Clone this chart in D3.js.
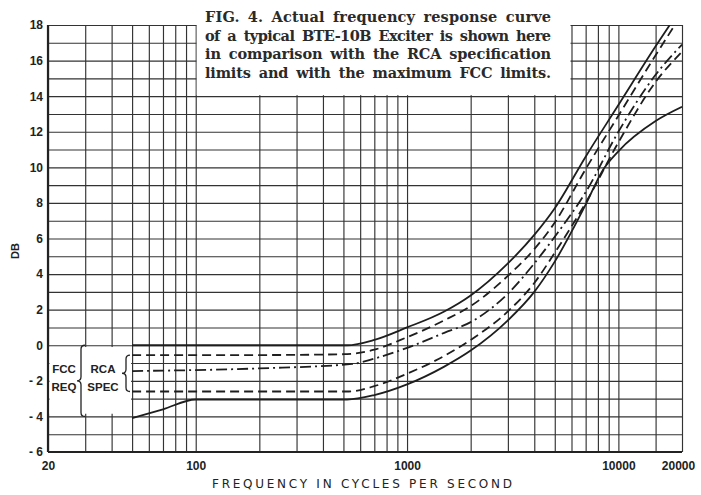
<!DOCTYPE html>
<html>
<head>
<meta charset="utf-8">
<script src="https://cdn.jsdelivr.net/npm/d3@7"></script>
<style>
body { margin: 0; background: #fff; }
svg { display: block; font-family: "Liberation Sans", Arial, sans-serif; }
.grid line { stroke: #333; stroke-width: 1.15; }
.grid .domain { display: none; }
.lbl .domain { display: none; }
.lbl text { font-size: 12px; font-weight: bold; fill: #222; }
.curve { fill: none; stroke: #1e1e1e; stroke-width: 1.8; }
</style>
</head>
<body>
<div id="chart"></div>
<script>
// grid and tick values
var gridFreqs = [20, 30, 40, 50, 60, 70, 80, 90, 100, 200, 300, 400, 500, 600, 700, 800, 900,
                 1000, 2000, 3000, 4000, 5000, 6000, 7000, 8000, 9000, 10000, 15000, 20000];
var freqLabels = [20, 100, 1000, 10000, 20000];
var dbLabels = [-6, -4, -2, 0, 2, 4, 6, 8, 10, 12, 14, 16, 18];

// curves (frequency in Hz, level in dB)
var fccUpperF  = [50, 200, 520, 700, 1000, 1500, 2000, 3000, 4000, 5000, 7000, 10000, 15000, 17500];
var fccUpperDb = [0, 0, 0, 0.3, 1.0, 1.9, 2.8, 4.6, 6.2, 7.7, 10.6, 13.5, 16.8, 18];

var rcaUpperF  = [50, 200, 520, 700, 1000, 1500, 2000, 3000, 4000, 5000, 7000, 10000, 15000, 18500];
var rcaUpperDb = [-0.55, -0.55, -0.5, -0.25, 0.45, 1.4, 2.2, 3.9, 5.4, 6.9, 9.9, 12.9, 16.3, 18];

var actualF  = [50, 200, 550, 700, 1000, 1500, 2000, 3000, 4000, 5000, 7000, 10000, 15000, 20000];
var actualDb = [-1.45, -1.3, -1.05, -0.75, -0.15, 0.7, 1.3, 2.9, 4.6, 6.1, 8.6, 12.0, 15.2, 16.9];

var rcaLowerF  = [50, 200, 530, 700, 1000, 1500, 2000, 3000, 4000, 5000, 7000, 10000, 15000, 20000];
var rcaLowerDb = [-2.6, -2.6, -2.6, -2.3, -1.6, -0.6, 0.3, 1.9, 3.5, 5.2, 8.0, 11.4, 14.8, 16.5];

var fccLowerF  = [50, 70, 100, 520, 700, 1000, 1500, 2000, 3000, 4000, 5000, 7000, 8400, 10000, 15000, 20000];
var fccLowerDb = [-4.1, -3.6, -3.05, -3.05, -2.8, -2.2, -1.2, -0.3, 1.4, 3.0, 4.7, 7.9, 9.8, 10.9, 12.6, 13.4];

var caption = [
  "FIG. 4.  Actual frequency response curve",
  "of a typical BTE-10B Exciter is shown here",
  "in comparison with the RCA specification",
  "limits and with the maximum FCC limits."
];

var width = 701, height = 495;
var plot = {left: 48, right: 682, top: 25, bottom: 452};

var x = d3.scaleLog().domain([20, 20000]).range([plot.left, plot.right]);
var y = d3.scaleLinear().domain([-6, 18]).range([plot.bottom, plot.top]);

var svg = d3.select("#chart").append("svg")
    .attr("width", width)
    .attr("height", height);

// grid lines
svg.append("g")
    .attr("class", "grid")
    .attr("transform", "translate(0," + plot.bottom + ")")
    .call(d3.axisBottom(x).tickValues(gridFreqs).tickSize(-(plot.bottom - plot.top)).tickFormat(""));

svg.append("g")
    .attr("class", "grid")
    .attr("transform", "translate(" + plot.left + ",0)")
    .call(d3.axisLeft(y).tickValues(d3.range(-6, 19)).tickSize(-(plot.right - plot.left)).tickFormat(""));

// heavier frame on left and bottom
svg.append("line").attr("x1", plot.left).attr("x2", plot.left)
    .attr("y1", plot.top).attr("y2", plot.bottom)
    .attr("stroke", "#222").attr("stroke-width", 2.2);
svg.append("line").attr("x1", plot.left).attr("x2", plot.right)
    .attr("y1", plot.bottom).attr("y2", plot.bottom)
    .attr("stroke", "#222").attr("stroke-width", 2.2);

// white patch behind the caption
svg.append("rect")
    .attr("x", x(100) + 1)
    .attr("y", 0)
    .attr("width", x(6000) - x(100) - 2)
    .attr("height", y(14) - 1)
    .attr("fill", "#fff");

// white patch behind the FCC / RCA notes
svg.append("rect")
    .attr("x", x(20) + 1.5)
    .attr("y", y(-0.1))
    .attr("width", x(50) - x(20) - 2.5)
    .attr("height", y(-3.85) - y(-0.1))
    .attr("fill", "#fff");

// curves
svg.append("clipPath").attr("id", "clip")
  .append("rect")
    .attr("x", plot.left).attr("y", plot.top)
    .attr("width", plot.right - plot.left).attr("height", plot.bottom - plot.top);

var line = d3.line()
    .curve(d3.curveMonotoneX)
    .x(function(d){ return x(d[0]); })
    .y(function(d){ return y(d[1]); });

var series = [
  {f: fccUpperF, db: fccUpperDb, dash: null},
  {f: rcaUpperF, db: rcaUpperDb, dash: "9,5"},
  {f: actualF,   db: actualDb,   dash: "11,4,2,4"},
  {f: rcaLowerF, db: rcaLowerDb, dash: "9,5"},
  {f: fccLowerF, db: fccLowerDb, dash: null}
];

svg.append("g").attr("clip-path", "url(#clip)")
  .selectAll("path")
  .data(series)
  .enter().append("path")
    .attr("class", "curve")
    .attr("stroke-dasharray", function(s){ return s.dash; })
    .attr("d", function(s){ return line(d3.zip(s.f, s.db)); });

// y labels
svg.append("g")
    .attr("class", "lbl")
    .attr("transform", "translate(" + (plot.left - 4) + ",0)")
    .call(d3.axisLeft(y).tickValues(dbLabels).tickSize(0).tickPadding(1)
        .tickFormat(function(d){ return d < 0 ? "- " + (-d) : d; }));

svg.append("text")
    .text("DB")
    .attr("transform", "translate(19," + y(5.3) + ") rotate(-90)")
    .attr("text-anchor", "middle")
    .style("font-size", "11px")
    .style("font-weight", "bold")
    .style("fill", "#222");

// x labels
var xLab = svg.append("g")
    .attr("class", "lbl")
    .attr("transform", "translate(0," + plot.bottom + ")")
    .call(d3.axisBottom(x).tickValues(freqLabels).tickSize(0).tickPadding(9.5)
        .tickFormat(function(d){ return d; }));
xLab.selectAll("text").filter(function(d){ return d === 20000; }).attr("dx", -4);

svg.append("text")
    .text("FREQUENCY IN CYCLES PER SECOND")
    .attr("x", 212)
    .attr("y", 488)
    .attr("textLength", 300)
    .attr("lengthAdjust", "spacing")
    .style("font-family", "'DejaVu Sans', sans-serif")
    .style("font-size", "12px")
    .style("fill", "#222");

// caption
svg.append("g").selectAll("text")
  .data(caption)
  .enter().append("text")
    .text(function(d){ return d; })
    .attr("x", 205)
    .attr("y", function(d, i){ return 22 + i * 18.6; })
    .attr("textLength", 346)
    .attr("lengthAdjust", "spacing")
    .style("font-family", "'DejaVu Serif', serif")
    .style("font-weight", "bold")
    .style("font-size", "14.5px")
    .style("word-spacing", "3px")
    .style("fill", "#2a2a2a");

// FCC / RCA notes with braces
function brace(xc, y0, y1, w) {
  var ym = (y0 + y1) / 2, r = 4;
  return "M" + (xc + w) + "," + y0 +
         "Q" + xc + "," + y0 + " " + xc + "," + (y0 + r) +
         "L" + xc + "," + (ym - r) +
         "Q" + xc + "," + ym + " " + (xc - w) + "," + ym +
         "Q" + xc + "," + ym + " " + xc + "," + (ym + r) +
         "L" + xc + "," + (y1 - r) +
         "Q" + xc + "," + y1 + " " + (xc + w) + "," + y1;
}

svg.append("path")
    .attr("d", brace(81, y(0), y(-4), 4))
    .attr("fill", "none").attr("stroke", "#222").attr("stroke-width", 1.3);
svg.append("path")
    .attr("d", brace(126, y(-0.55), y(-2.6), 4))
    .attr("fill", "none").attr("stroke", "#222").attr("stroke-width", 1.3);

var notes = [
  {t: "FCC", x: 64, y: 373}, {t: "REQ", x: 64, y: 391},
  {t: "RCA", x: 103, y: 373}, {t: "SPEC", x: 103, y: 391}
];
svg.append("g").selectAll("text")
  .data(notes)
  .enter().append("text")
    .text(function(d){ return d.t; })
    .attr("x", function(d){ return d.x; })
    .attr("y", function(d){ return d.y; })
    .attr("text-anchor", "middle")
    .style("font-size", "11.5px")
    .style("font-weight", "bold")
    .style("fill", "#222");
</script>
</body>
</html>
